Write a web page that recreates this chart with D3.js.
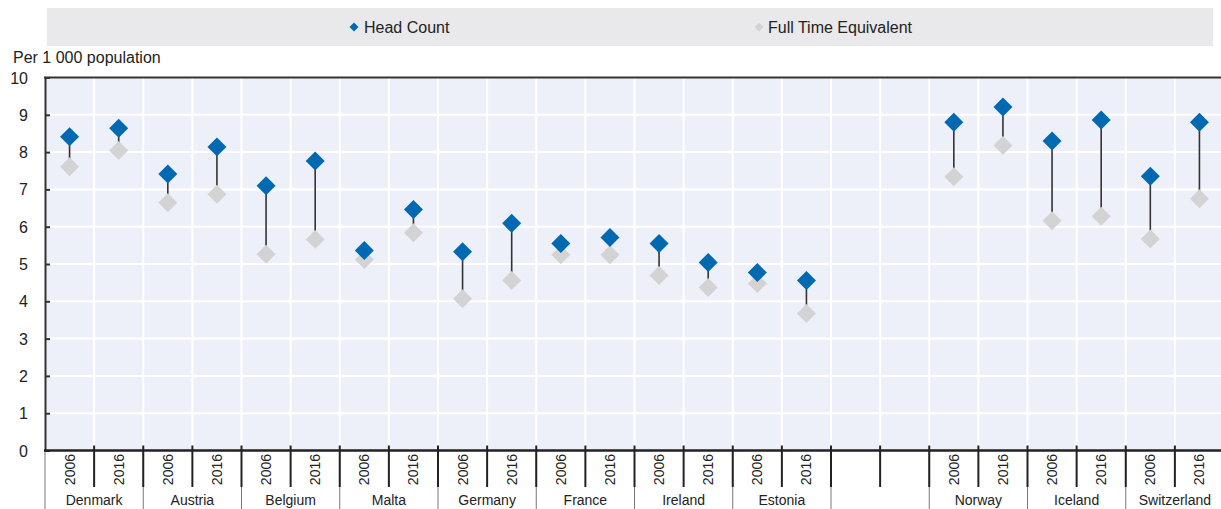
<!DOCTYPE html>
<html>
<head>
<meta charset="utf-8">
<script src="https://cdn.jsdelivr.net/npm/d3@7"></script>
<style>
  html, body { margin: 0; padding: 0; background: #fff; overflow: hidden; }
  svg { display: block; font-family: "Liberation Sans", Arial, sans-serif; }
</style>
</head>
<body>
<svg id="chart" width="1221" height="509"></svg>
<script>
// ---- Data ----
const countries = ["Denmark", "Austria", "Belgium", "Malta", "Germany", "France", "Ireland", "Estonia", "", "Norway", "Iceland", "Switzerland"];
const years = ["2006", "2016"];
const headCount2006 = [8.41, 7.41, 7.10, 5.36, 5.33, 5.55, 5.55, 4.77, null, 8.80, 8.30, 7.35];
const headCount2016 = [8.64, 8.14, 7.76, 6.46, 6.09, 5.71, 5.04, 4.56, null, 9.21, 8.86, 8.80];
const fte2006 = [7.61, 6.64, 5.26, 5.12, 4.07, 5.25, 4.69, 4.48, null, 7.34, 6.16, 5.67];
const fte2016 = [8.04, 6.87, 5.66, 5.84, 4.56, 5.25, 4.37, 3.67, null, 8.18, 6.28, 6.75];
const yTicks = [0, 1, 2, 3, 4, 5, 6, 7, 8, 9, 10];
const seriesNames = ["Head Count", "Full Time Equivalent"];
const yTitle = "Per 1 000 population";

(function () {
// ---- Build rows ----
const rows = [];
countries.forEach((c, i) => {
  years.forEach((yr, j) => {
    rows.push({
      key: i + "|" + yr,
      country: c, year: c ? yr : "",
      hc: j === 0 ? headCount2006[i] : headCount2016[i],
      fte: j === 0 ? fte2006[i] : fte2016[i]
    });
  });
});

const svg = d3.select("#chart");
const pLeft = 45, pRight = 1224, pTop = 77.5, pBottom = 450.5;
const blue = "#0069B1", grey = "#D3D3D3";

const x = d3.scaleBand().domain(rows.map(d => d.key)).range([pLeft, pRight]).padding(0);
const y = d3.scaleLinear().domain([0, 10]).range([pBottom, pTop]);
const bw = x.bandwidth();

// Legend
svg.append("rect").attr("x", 47).attr("y", 8).attr("width", 1166).attr("height", 38).attr("fill", "#E9E9EB");
const legendItems = [
  { name: seriesNames[0], color: blue, mx: 354, tx: 364 },
  { name: seriesNames[1], color: grey, mx: 759, tx: 768 }
];
legendItems.forEach(l => {
  svg.append("path")
    .attr("d", d3.symbol().type(d3.symbolSquare).size(40)())
    .attr("transform", `translate(${l.mx},27) rotate(45)`)
    .attr("fill", l.color);
  svg.append("text").attr("x", l.tx).attr("y", 33).attr("font-size", 16).attr("fill", "#222").text(l.name);
});

// Y title
svg.append("text").attr("x", 13).attr("y", 63).attr("font-size", 16).attr("fill", "#222").text(yTitle);

// Plot background
svg.append("rect").attr("x", pLeft).attr("y", pTop).attr("width", pRight - pLeft).attr("height", pBottom - pTop).attr("fill", "#EDF0F8");

// Gridlines
svg.append("g").selectAll("line").data(yTicks.slice(1, -1)).join("line")
  .attr("x1", pLeft).attr("x2", pRight)
  .attr("y1", d => y(d)).attr("y2", d => y(d))
  .attr("stroke", "#fff").attr("stroke-width", 2);
svg.append("g").selectAll("line").data(rows.slice(1)).join("line")
  .attr("x1", d => x(d.key)).attr("x2", d => x(d.key))
  .attr("y1", pTop).attr("y2", pBottom)
  .attr("stroke", "#fff").attr("stroke-width", 2);

// Top border
svg.append("line").attr("x1", pLeft - 1).attr("x2", pRight).attr("y1", pTop).attr("y2", pTop).attr("stroke", "#333").attr("stroke-width", 2);

// Y axis
const yAxis = d3.axisRight(y).tickValues(yTicks).tickSize(5).tickFormat("");
const gy = svg.append("g").attr("transform", `translate(${pLeft},0)`).call(yAxis);
gy.select(".domain").attr("stroke", "#333").attr("stroke-width", 2);
gy.selectAll(".tick line").attr("stroke", "#333").attr("stroke-width", 2);
svg.append("g").selectAll("text").data(yTicks).join("text")
  .attr("x", 28).attr("y", d => y(d) + 6)
  .attr("text-anchor", "end").attr("font-size", 16).attr("fill", "#222")
  .text(d => d);

// Group separators (below axis)
const groupBounds = countries.map((c, i) => x(i + "|2006")).concat([pRight]);
svg.append("g").selectAll("line").data(groupBounds).join("line")
  .attr("x1", d => d).attr("x2", d => d)
  .attr("y1", pBottom).attr("y2", 509)
  .attr("stroke", "#777").attr("stroke-width", 1);

// Slot ticks
svg.append("g").selectAll("line").data(rows.slice(1)).join("line")
  .attr("x1", d => x(d.key)).attr("x2", d => x(d.key))
  .attr("y1", pBottom - 5).attr("y2", 487)
  .attr("stroke", "#222").attr("stroke-width", 2);

// X axis line
svg.append("line").attr("x1", pLeft - 1).attr("x2", pRight).attr("y1", pBottom).attr("y2", pBottom).attr("stroke", "#222").attr("stroke-width", 2.5);

// Year labels
svg.append("g").selectAll("text").data(rows.filter(d => d.year)).join("text")
  .attr("transform", d => `translate(${x(d.key) + bw / 2 + 5},${454}) rotate(-90)`)
  .attr("text-anchor", "end").attr("font-size", 14).attr("fill", "#222")
  .text(d => d.year);

// Country labels
svg.append("g").selectAll("text").data(countries.map((c, i) => ({ c, i })).filter(d => d.c)).join("text")
  .attr("x", d => x(d.i + "|2006") + bw)
  .attr("y", 505).attr("text-anchor", "middle").attr("font-size", 14).attr("fill", "#222")
  .text(d => d.c);

// Connectors
const pts = rows.filter(d => d.hc != null);
svg.append("g").selectAll("line").data(pts).join("line")
  .attr("x1", d => x(d.key) + bw / 2).attr("x2", d => x(d.key) + bw / 2)
  .attr("y1", d => y(d.hc)).attr("y2", d => y(d.fte))
  .attr("stroke", "#333").attr("stroke-width", 1.6);

const diamond = d3.symbol().type(d3.symbolSquare).size(180)();
svg.append("g").selectAll("path").data(pts).join("path")
  .attr("d", diamond)
  .attr("transform", d => `translate(${x(d.key) + bw / 2},${y(d.fte)}) rotate(45)`)
  .attr("fill", grey);
svg.append("g").selectAll("path").data(pts).join("path")
  .attr("d", diamond)
  .attr("transform", d => `translate(${x(d.key) + bw / 2},${y(d.hc)}) rotate(45)`)
  .attr("fill", blue);
})();
</script>
</body>
</html>
